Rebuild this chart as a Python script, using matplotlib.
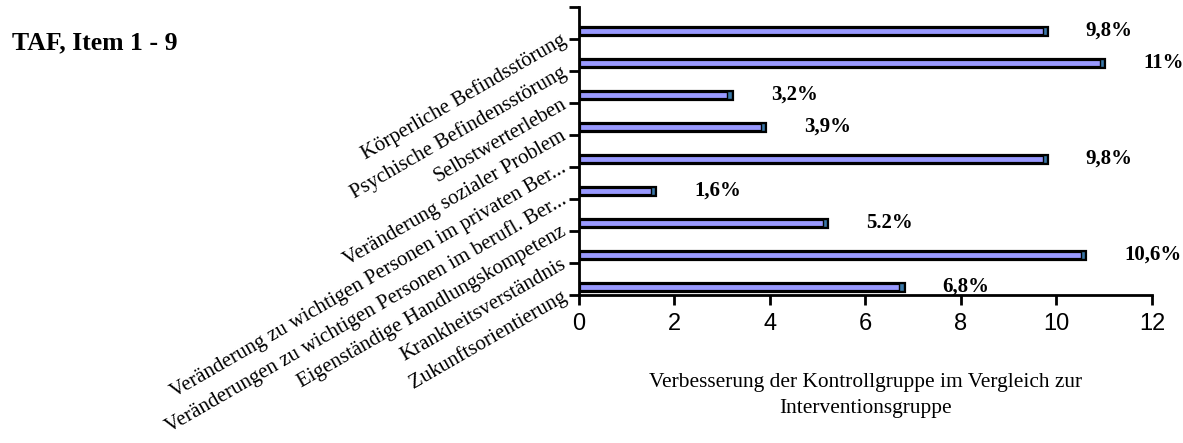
import numpy as np
import matplotlib.pyplot as plt

# TAF items, top to bottom
items = ["Körperliche Befindsstörung",
         "Psychische Befindensstörung",
         "Selbstwerterleben",
         "Veränderung sozialer Problem",
         "Veränderung zu wichtigen Personen im privaten Ber...",
         "Veränderungen zu wichtigen Personen im berufl. Ber...",
         "Eigenständige Handlungskompetenz",
         "Krankheitsverständnis",
         "Zukunftsorientierung"]
improvement = [9.8, 11, 3.2, 3.9, 9.8, 1.6, 5.2, 10.6, 6.8]
value_labels = ["9,8%", "11%", "3,2%", "3,9%", "9,8%", "1,6%", "5.2%", "10,6%", "6,8%"]

serif = "Liberation Serif"
sans = "Liberation Sans"

fig = plt.figure(figsize=(11.83, 4.43), dpi=100)
ax = fig.add_axes([0.4894, 0.3341, 0.4844, 0.6501])

n = len(items)
ypos = np.arange(n)[::-1] + 0.25

# flat bars with a small dark end cap
ax.barh(ypos, improvement, height=0.25, color="#9999ff",
        edgecolor="black", linewidth=2.3, zorder=3)
cap = 0.09
ax.barh(ypos, [cap] * n, left=np.array(improvement) - cap, height=0.25,
        color="#3a78a8", edgecolor="black", linewidth=1.0, zorder=4)

for y, v, lab in zip(ypos, improvement, value_labels):
    ax.annotate(lab, (v, y), xytext=(28, 0), textcoords="offset points",
                ha="left", va="center", fontsize=15, fontweight="bold",
                family=serif, zorder=5)

ax.set_xlim(0, 12)
ax.set_ylim(0, n)
ax.set_xticks(range(0, 13, 2))
ax.set_xticklabels([str(t) for t in range(0, 13, 2)], family=sans, fontsize=17)
ax.set_yticks(range(n + 1))
ax.set_yticklabels(items[::-1] + [""], family=serif, fontsize=15,
                   rotation=30, ha="right", va="center", rotation_mode="anchor")

for side in ["top", "right"]:
    ax.spines[side].set_visible(False)
for side in ["left", "bottom"]:
    ax.spines[side].set_linewidth(2.0)
ax.tick_params(axis="both", length=7, width=2.0, direction="out")
ax.tick_params(axis="y", pad=3)
ax.tick_params(axis="x", pad=6)

ax.set_xlabel("Verbesserung der Kontrollgruppe im Vergleich zur\nInterventionsgruppe",
              family=serif, fontsize=15.4, linespacing=1.5, labelpad=27)

fig.text(0.01, 1 - 49 / 443, "TAF, Item 1 - 9", family=serif, fontsize=18.5,
         fontweight="bold", ha="left", va="baseline")

fig.savefig("out.png", dpi=100)
